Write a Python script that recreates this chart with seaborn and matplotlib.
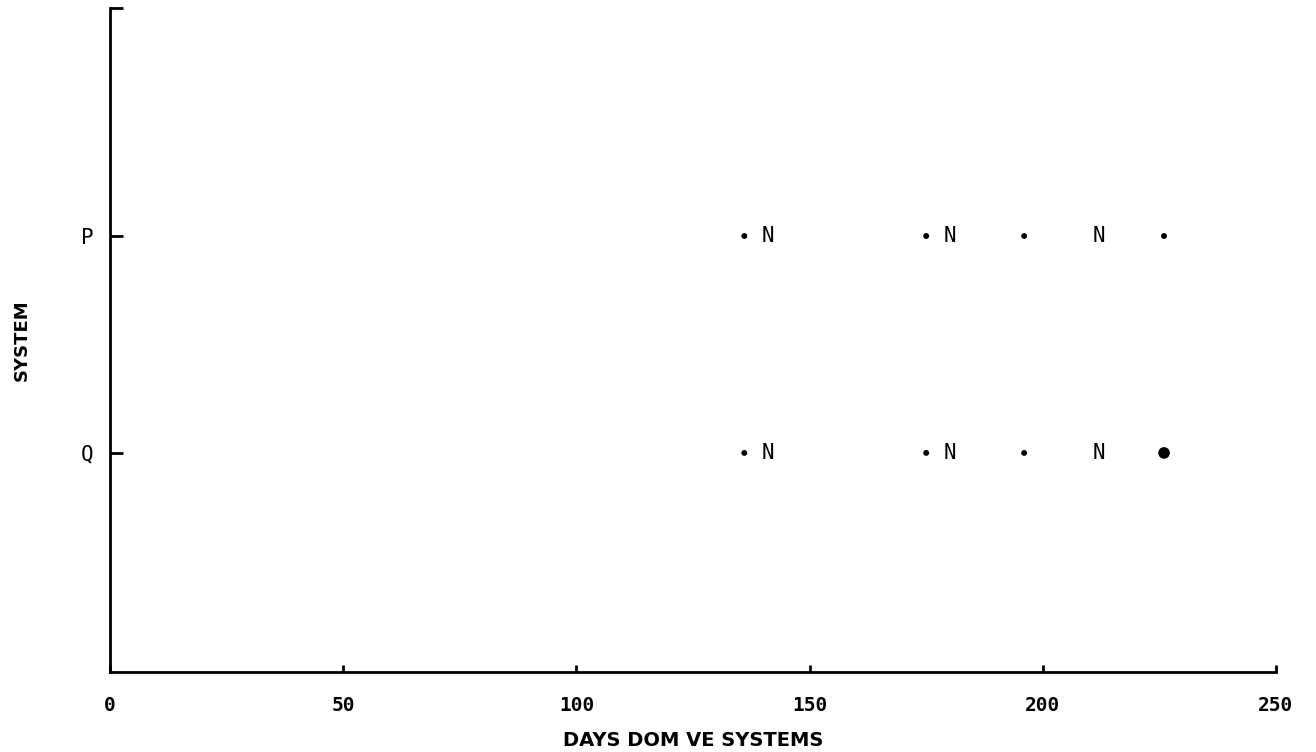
import matplotlib
matplotlib.use("Agg")
import matplotlib.pyplot as plt
import seaborn as sns
import pandas as pd

# Data
systems = ["Q", "P"]
dot_days_P = [136, 175, 196, 226]
n_days_P = [141, 180, 212]
dot_days_Q = [136, 175, 196]
big_dot_days_Q = [226]
n_days_Q = [141, 180, 212]
x_ticks = [0, 50, 100, 150, 200, 250]

sns.set_theme(style="white")
plt.rcParams['font.family'] = ['DejaVu Sans']

ypos = {s: i for i, s in enumerate(systems)}

dots = pd.DataFrame({
    "days": dot_days_P + dot_days_Q,
    "y": [ypos["P"]] * len(dot_days_P) + [ypos["Q"]] * len(dot_days_Q),
})
big = pd.DataFrame({"days": big_dot_days_Q, "y": [ypos["Q"]] * len(big_dot_days_Q)})
ns = pd.DataFrame({
    "days": n_days_P + n_days_Q,
    "y": [ypos["P"]] * len(n_days_P) + [ypos["Q"]] * len(n_days_Q),
})

fig = plt.figure(figsize=(13.16, 7.52), dpi=100)
ax = fig.add_axes([0.0836, 0.1064, 0.886, 0.8826])

sns.scatterplot(data=dots, x="days", y="y", ax=ax, color="black", s=18,
                edgecolor="none", legend=False)
sns.scatterplot(data=big, x="days", y="y", ax=ax, color="black", s=70,
                marker="o", edgecolor="none", legend=False)
for d, yv in zip(ns["days"], ns["y"]):
    ax.text(d, yv, "N", ha="center", va="center", fontsize=15,
            family="DejaVu Sans Mono", color="black")

ax.set_xlim(0, 250)
ax.set_ylim(-1.01, 2.05)
ax.set_xticks(x_ticks)
ax.set_xticklabels([str(t) for t in x_ticks], fontsize=14, fontweight="bold",
                   family="DejaVu Sans Mono")
ax.set_yticks([ypos["Q"], ypos["P"], 2.05])
ax.set_yticklabels(["Q", "P", ""], fontsize=15, family="DejaVu Sans Mono")

for s in ["top", "right"]:
    ax.spines[s].set_visible(False)
for s in ["left", "bottom"]:
    ax.spines[s].set_color("black")
    ax.spines[s].set_linewidth(2)

ax.tick_params(axis="both", direction="in", width=2, colors="black",
               labelcolor="black", bottom=True, left=True)
ax.tick_params(axis="x", pad=17, length=5)
ax.tick_params(axis="y", pad=12, length=9)

ax.set_xlabel("DAYS DOM VE SYSTEMS", fontsize=14, fontweight="bold",
              labelpad=12, color="black")
ax.set_ylabel("SYSTEM", fontsize=13, fontweight="bold", labelpad=36,
              color="black")

fig.savefig("out.png", dpi=100, facecolor="white")
